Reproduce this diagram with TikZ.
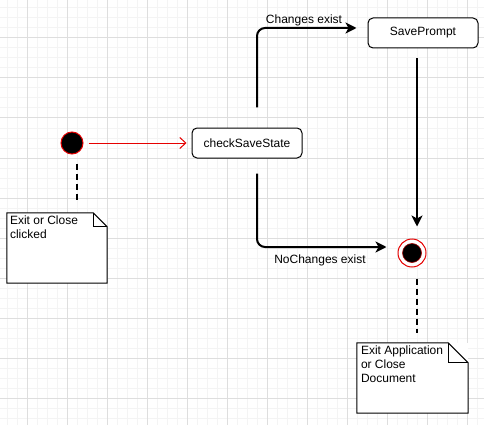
\documentclass[tikz,border=0pt]{standalone}
\usepackage{fontspec}
\setmainfont{Liberation Sans}
\usetikzlibrary{arrows.meta}
\definecolor{minorgrid}{RGB}{244,244,244}
\definecolor{majorgrid}{RGB}{222,222,222}
\definecolor{statered}{RGB}{230,0,0}
\tikzset{
  lbl/.style={font=\fontsize{12}{14}\selectfont, inner sep=0pt},
  statebox/.style={draw=black, line width=1pt, rounded corners=5pt, fill=white,
    minimum width=110pt, minimum height=30pt, inner sep=0pt, font=\fontsize{12}{14}\selectfont},
  notebox/.style={inner sep=0pt, fill=white},
  notetext/.style={font=\fontsize{12}{14}\selectfont, align=left, inner sep=0pt, anchor=north west},
  conn/.style={draw=black, line width=2pt, rounded corners=8pt, -{Stealth[length=11pt,width=11pt,inset=3pt]}},
  redconn/.style={draw=statered, line width=1pt, -{Straight Barb[length=6pt,width=11pt]}},
  noteconn/.style={draw=black, line width=2pt, dash pattern=on 6pt off 4pt},
}
\begin{document}
\begin{tikzpicture}[x=1pt,y=-1pt]
\useasboundingbox (0,0) rectangle (484,425);
\fill[white] (0,0) rectangle (484,425);
% grid
\foreach \gx in {7,17,...,484} \draw[minorgrid, line width=1pt] (\gx,0) -- (\gx,425);
\foreach \gy in {8,18,...,425} \draw[minorgrid, line width=1pt] (0,\gy) -- (484,\gy);
\foreach \gx in {27,67,...,484} \draw[majorgrid, line width=1pt] (\gx,0) -- (\gx,425);
\foreach \gy in {38,78,...,425} \draw[majorgrid, line width=1pt] (0,\gy) -- (484,\gy);

% nodes
\node[circle, fill=black, draw=statered, line width=1pt, minimum size=22pt, inner sep=0pt] (init) at (72,143) {};
\node[statebox] (check) at (247,143) {checkSaveState};
\node[statebox] (save) at (423,33) {SavePrompt};
\node[circle, fill=white, draw=statered, line width=1pt, minimum size=28pt, inner sep=0pt] (final) at (412,253) {};
\fill[black, draw=statered!70!black, line width=0.6pt] (final.center) circle (9.5pt);

% notes
\node[notebox, minimum width=100pt, minimum height=70pt] (note1) at (57,248) {};
\draw[line width=1pt, fill=white] (note1.north west) -- ([xshift=-14pt]note1.north east) -- ([yshift=-14pt]note1.north east) -- (note1.south east) -- (note1.south west) -- cycle;
\draw[line width=1pt] ([xshift=-14pt]note1.north east) -- ([xshift=-14pt,yshift=-14pt]note1.north east) -- ([yshift=-14pt]note1.north east);
\node[notetext] (note1t) at ([xshift=3pt,yshift=-3pt]note1.north west) {Exit or Close\\clicked};

\node[notebox, minimum width=111pt, minimum height=70pt] (note2) at (412.5,378) {};
\draw[line width=1pt, fill=white] (note2.north west) -- ([xshift=-20pt]note2.north east) -- ([yshift=-20pt]note2.north east) -- (note2.south east) -- (note2.south west) -- cycle;
\draw[line width=1pt] ([xshift=-20pt]note2.north east) -- ([xshift=-20pt,yshift=-20pt]note2.north east) -- ([yshift=-20pt]note2.north east);
\node[notetext] (note2t) at ([xshift=4pt,yshift=-3pt]note2.north west) {Exit Application\\or Close\\Document};

% connectors
\draw[redconn, shorten <=5pt, shorten >=5pt] (init) -- (check);
\draw[conn, shorten <=20pt, shorten >=11pt] ([xshift=10pt]check.north) |- ([yshift=5pt]save.west);
\draw[conn, shorten <=15pt, shorten >=11pt] ([xshift=10pt]check.south) |- ([yshift=6pt]final.west);
\draw[conn, shorten <=10pt, shorten >=12pt] ([xshift=-6pt]save.south) -- ([xshift=5pt]final.north);
\draw[noteconn, shorten <=9pt, shorten >=10pt] ([xshift=5pt]init.south) -- ([xshift=20pt]note1.north);
\draw[noteconn, shorten <=11pt, shorten >=10pt] ([xshift=5pt]final.south) -- ([xshift=4.5pt]note2.north);

% labels
\node[lbl] (lchg) at (304,20) {Changes exist};
\node[lbl] (lnochg) at (320,260) {NoChanges exist};
\end{tikzpicture}
\end{document}
